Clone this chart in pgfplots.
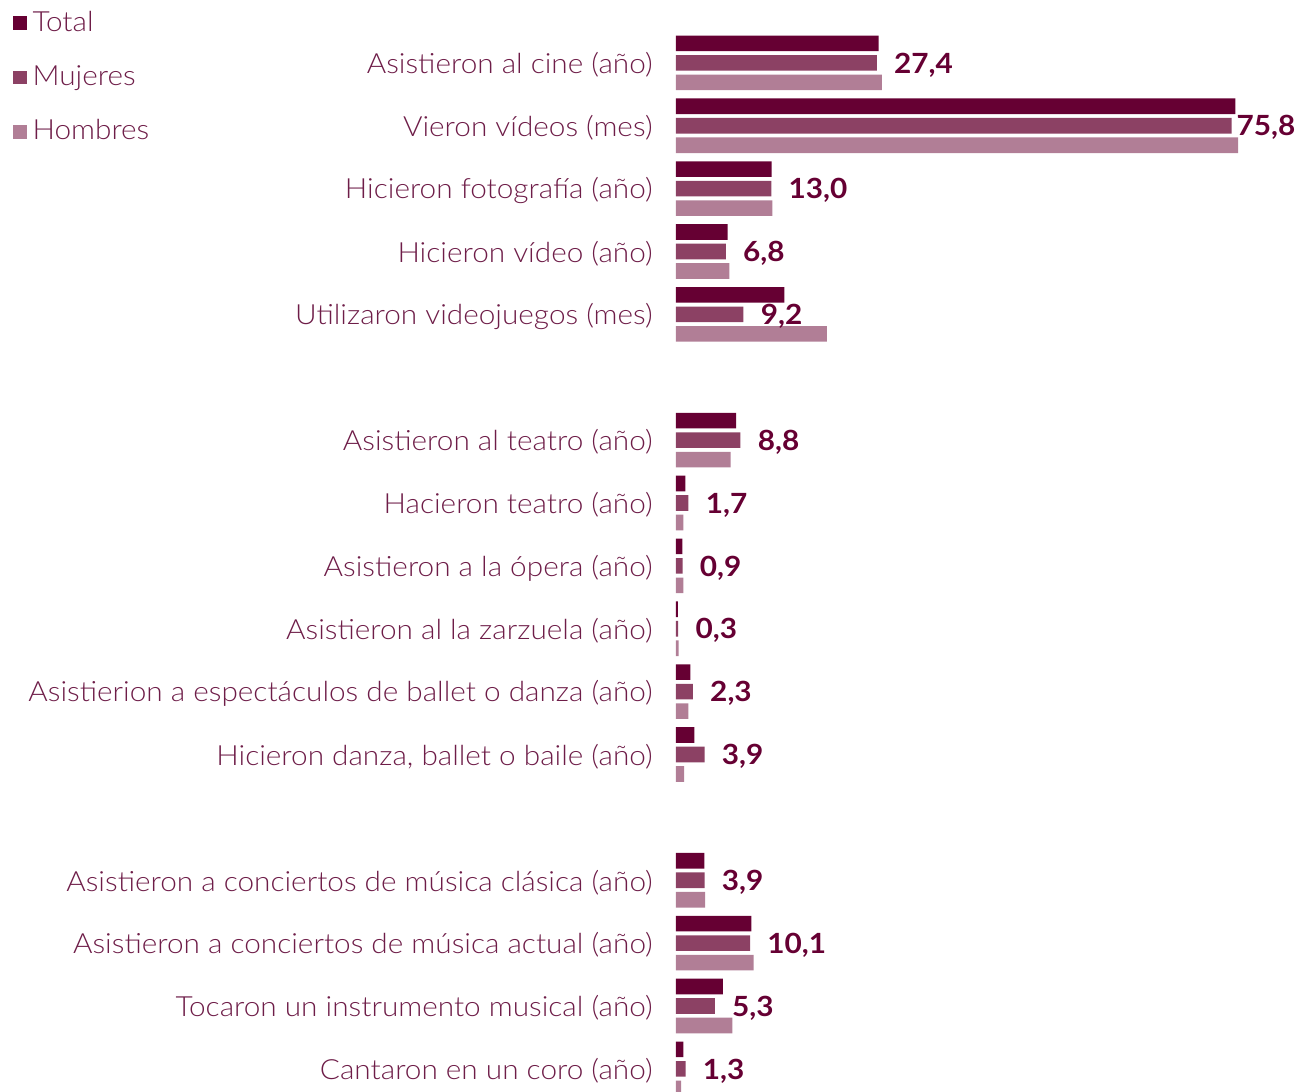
\documentclass[border=0pt]{standalone}
\usepackage{fontspec}
\setmainfont{Lato}[UprightFont={* Light}, BoldFont={* Bold}, FakeStretch=1.07]
\usepackage{pgfplots}
\usepackage{pgfplotstable}
\pgfplotsset{compat=1.18}
\definecolor{cT}{HTML}{660033}
\definecolor{cM}{HTML}{8C4164}
\definecolor{cH}{HTML}{B17E96}
\definecolor{txt}{HTML}{6E1D48}

\pgfplotstableread{
pos total muj hom lx
0 27.65 27.4 28.1 8.5
1 76.3 75.8 76.7 2.3
2 13.05 13.0 13.15 8.5
3 7.05 6.8 7.3 8.5
4 14.8 9.2 20.6 8.5
6 8.2 8.8 7.45 8.5
7 1.27 1.7 1.0 8.5
8 0.86 0.9 1.0 8.5
9 0.27 0.3 0.36 8.5
10 1.95 2.3 1.7 8.5
11 2.5 3.9 1.1 8.5
13 3.86 3.9 3.96 8.5
14 10.3 10.1 10.6 8.5
15 6.4 5.3 7.7 8.5
16 1.0 1.3 0.7 8.5
}\data

\begin{document}
\fontsize{13.9}{16}\selectfont
\begin{tikzpicture}
\begin{axis}[
  scale only axis, width=310.5pt, height=545.96pt,
  xbar, bar width=7.8pt,
  xmin=0, xmax=84.72, ymin=-1, ymax=16.366, y dir=reverse,
  axis line style={draw=none},
  tick style={draw=none}, major tick length=0pt,
  xtick=\empty,
  ytick={0,1,2,3,4,6,7,8,9,10,11,13,14,15,16},
  yticklabels={Asistieron al cine (año),Vieron vídeos (mes),Hicieron fotografía (año),Hicieron vídeo (año),Utilizaron videojuegos (mes),Asistieron al teatro (año),Hacieron teatro (año),Asistieron a la ópera (año),Asistieron al la zarzuela (año),Asistierion a espectáculos de ballet o danza (año),{Hicieron danza, ballet o baile (año)},Asistieron a conciertos de música clásica (año),Asistieron a conciertos de música actual (año),Tocaron un instrumento musical (año),Cantaron en un coro (año)},
  yticklabel style={anchor=east, inner sep=0pt, xshift=-11.5pt, yshift=-1pt, text=txt},
  /pgf/number format/assume math mode=true,
  legend image code/.code={\fill[#1] (0pt,-3.4pt) rectangle (6.8pt,3.4pt);},
  legend cell align=left,
  legend style={draw=none, fill=none, inner sep=0pt, outer sep=0pt,
    at={(axis description cs:-1.0676,0.990)}, anchor=north west,
    nodes={inner sep=0pt, text=txt},
    row sep=15.1pt,
    /tikz/every odd column/.append style={column sep=3pt}},
]
\addplot[fill=cT, draw=none, bar shift=9.75pt] table[x=total,y=pos]{\data};
\addplot[fill=cM, draw=none, bar shift=0pt,
  point meta=x,
  visualization depends on={\thisrow{lx} \as \lx},
  nodes near coords={\pgfmathprintnumber[fixed,fixed zerofill,precision=1,use comma]{\pgfplotspointmeta}},
  every node near coord/.append style={anchor=west, inner sep=0pt, xshift=\lx pt, yshift=-1pt, font=\bfseries, text=cT}] table[x=muj,y=pos]{\data};
\addplot[fill=cH, draw=none, bar shift=-9.75pt] table[x=hom,y=pos]{\data};
\legend{Total,Mujeres,Hombres}
\end{axis}
\pgfresetboundingbox
\path (current axis.south west) ++(-338pt,0pt) rectangle (current axis.north east);
\end{tikzpicture}
\end{document}
